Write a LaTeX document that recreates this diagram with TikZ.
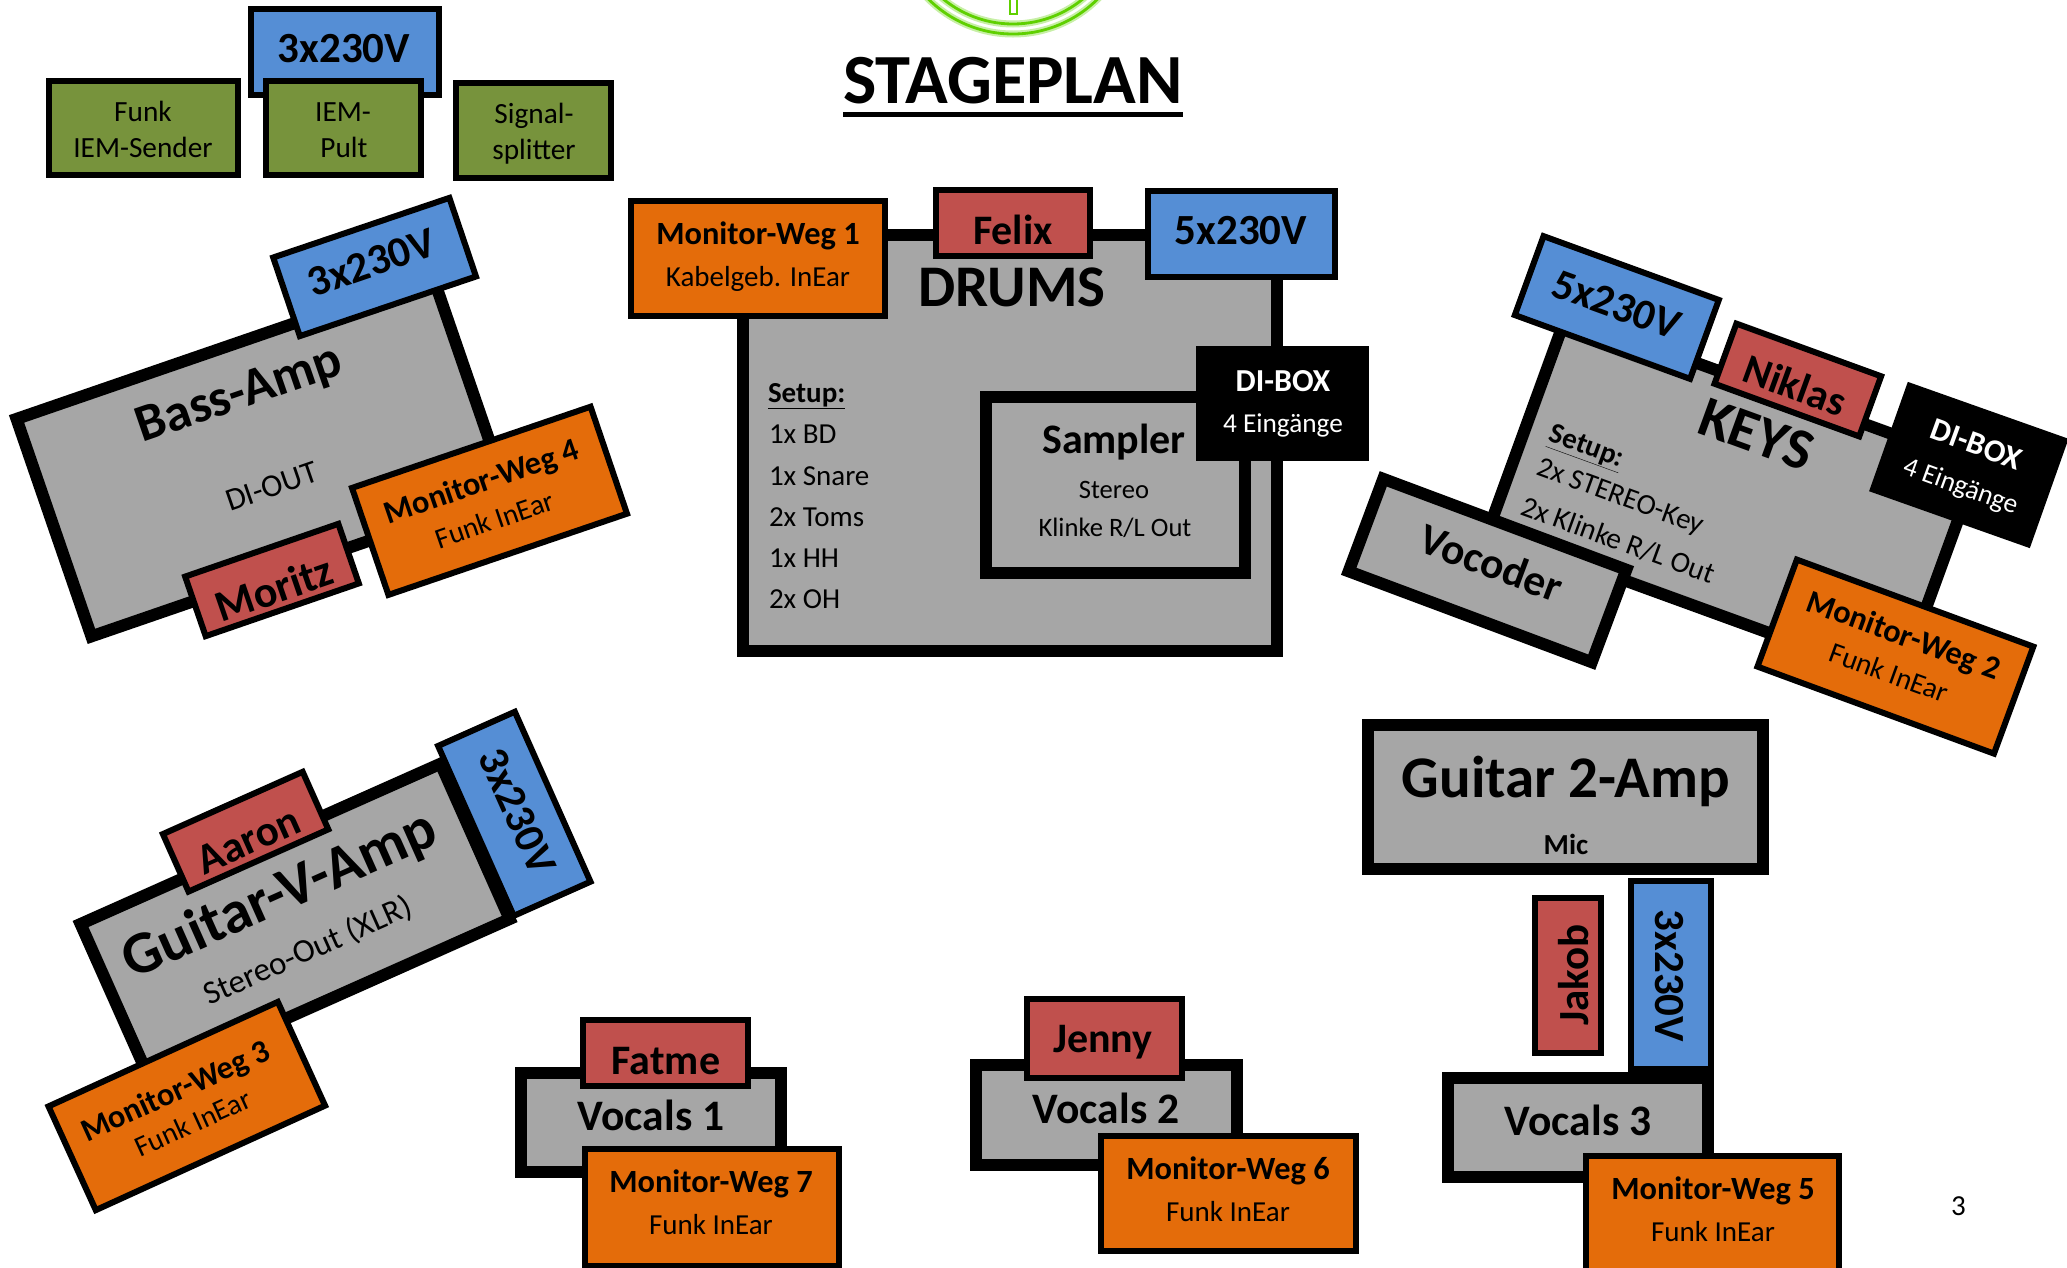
\documentclass[tikz,border=0pt]{standalone}
\usepackage{fontspec}
\setmainfont{Carlito}
\newcommand{\fs}[1]{\fontsize{#1}{#1}\selectfont}
\definecolor{cblue}{HTML}{558ED5}
\definecolor{corange}{HTML}{E46C0A}
\definecolor{cred}{HTML}{C0504D}
\definecolor{cgreen}{HTML}{77933C}
\definecolor{cgray}{HTML}{A6A6A6}
\definecolor{clogo}{HTML}{5FD000}
\tikzset{
  basebox/.style={draw=black,rectangle,inner sep=0pt,outer sep=0pt,line width=6pt},
  bluebox/.style={basebox,fill=cblue},
  orgbox/.style={basebox,fill=corange},
  redbox/.style={basebox,fill=cred},
  grnbox/.style={basebox,fill=cgreen},
  graybox/.style={basebox,fill=cgray,line width=12pt},
  blkbox/.style={rectangle,fill=black,inner sep=0pt,outer sep=0pt},
  txt/.style={inner sep=0pt,outer sep=0pt,anchor=base,text=black,font=\fs{#1}},
  btxt/.style={inner sep=0pt,outer sep=0pt,anchor=base,text=black,font=\fs{#1}\bfseries},
  ltxt/.style={inner sep=0pt,outer sep=0pt,anchor=base west,text=black,font=\fs{#1}},
  logoglow/.style={draw=clogo!35,line width=7pt},
  logoline/.style={draw=clogo,line width=2.8pt}
}
\begin{document}
\begin{tikzpicture}[x=1pt,y=-1pt]
\useasboundingbox (0,0) rectangle (2067,1267);
\clip (0,0) rectangle (2067,1267);
% logo
\coordinate (logoc) at (1013,-86);
\draw[logoglow] (logoc) circle (120);
\draw[logoglow] (logoc) circle (110);
\draw[logoline] (logoc) circle (120);
\draw[logoline] (logoc) circle (110);
\draw[draw=clogo,line width=1.6pt,fill=white] (1010,-5) rectangle (1017,14);
% title
\node[btxt=70.5] (title) at (1013,103) {STAGEPLAN};
\draw[line width=5.5pt] (843,114.5) -- (1183,114.5);
% top
\node[bluebox,minimum width=188pt,minimum height=86pt] (toppower) at (345,52) {};
\node[btxt=43] (toppowert) at (344,62) {3x230V};
\node[grnbox,minimum width=189pt,minimum height=94pt] (funk) at (143.5,128) {};
\node[txt=29.3] (funka) at (143,121) {Funk};
\node[txt=29.3] (funkb) at (143,157) {IEM-Sender};
\node[grnbox,minimum width=155pt,minimum height=94pt] (iem) at (343.5,128) {};
\node[txt=29.3] (iema) at (343,121) {IEM-};
\node[txt=29.3] (iemb) at (344,157) {Pult};
\node[grnbox,minimum width=155pt,minimum height=95pt] (sig) at (533.5,130.5) {};
\node[txt=29.3] (siga) at (534,123) {Signal-};
\node[txt=29.3] (sigb) at (534,159) {splitter};
% bass
\node[graybox,minimum width=440pt,minimum height=230pt,rotate=19] (bass) at (262,456) {};
\node[btxt=52.5,rotate=19] (basst) at (244,408) {Bass-Amp};
\node[txt=32,rotate=19] (bassd) at (275,496) {DI-OUT};
\node[bluebox,minimum width=186pt,minimum height=83pt,rotate=18.7] (bassp) at (374.6,267) {};
\node[btxt=43,rotate=19] (basspt) at (376,276) {3x230V};
\node[redbox,minimum width=162pt,minimum height=63pt,rotate=19] (mor) at (272,580) {};
\node[btxt=44,rotate=19] (mort) at (279,603) {Moritz};
\node[orgbox,minimum width=252pt,minimum height=113pt,rotate=18.8] (mon4) at (489.5,500.8) {};
\node[btxt=32.4,rotate=19] (mon4a) at (485,491.5) {Monitor-Weg 4};
\node[txt=29,rotate=19] (mon4b) at (498,529) {Funk InEar};
% drums
\node[graybox,minimum width=534pt,minimum height=416pt] (drums) at (1010,443) {};
\node[graybox,minimum width=259pt,minimum height=176pt] (samp) at (1115.5,485) {};
\node[btxt=59] (drumst) at (1012,306) {DRUMS};
\node[orgbox,minimum width=254pt,minimum height=115pt] (mon1) at (758,258.5) {};
\node[btxt=32.4] (mon1a) at (758,244) {Monitor-Weg 1};
\node[txt=29] (mon1b) at (758,286) {Kabelgeb. InEar};
\node[redbox,minimum width=154pt,minimum height=66pt] (felix) at (1013,223) {};
\node[btxt=42] (felixt) at (1013,244) {Felix};
\node[bluebox,minimum width=187pt,minimum height=86pt] (dp) at (1241.5,234) {};
\node[btxt=43] (dpt) at (1241,244) {5x230V};
\node[blkbox,minimum width=173pt,minimum height=115pt] (di) at (1282.5,403.5) {};
\node[btxt=32,text=white] (dia) at (1283,391) {DI-BOX};
\node[txt=27.3,text=white] (dib) at (1283,432) {4 Eingänge};
\node[btxt=42] (sampa) at (1114,453) {Sampler};
\node[txt=26.6] (sampb) at (1114,498) {Stereo};
\node[txt=26.6] (sampc) at (1115,536) {Klinke R/L Out};
\node[ltxt=29,font=\fs{29}\bfseries] (setup) at (768,402) {\underline{Setup:}};
\node[ltxt=29] (s1) at (769,443) {1x BD};
\node[ltxt=29] (s2) at (769,485) {1x Snare};
\node[ltxt=29] (s3) at (769,526) {2x Toms};
\node[ltxt=29] (s4) at (769,567) {1x HH};
\node[ltxt=29] (s5) at (769,608) {2x OH};
% keys
\node[graybox,minimum width=438pt,minimum height=229pt,rotate=-20] (keys) at (1733,498) {};
\node[btxt=58,rotate=-20] (keyst) at (1750,452) {KEYS};
\node[txt=29,font=\fs{29}\bfseries,rotate=-20] (ksetup) at (1584,454) {\underline{Setup:}};
\node[txt=29,rotate=-20] (ks1) at (1618,504.5) {2x STEREO-Key};
\node[txt=29.5,rotate=-20] (ks2) at (1615,549) {2x Klinke R/L Out};
\node[graybox,minimum width=259.5pt,minimum height=98.7pt,rotate=-20.5] (voc) at (1487.5,570.5) {};
\node[btxt=43.5,rotate=-20.5] (voct) at (1486,577) {Vocoder};
\node[bluebox,minimum width=186.5pt,minimum height=84pt,rotate=-20] (kp) at (1616.8,307.5) {};
\node[btxt=43,rotate=-20] (kpt) at (1612,318) {5x230V};
\node[redbox,minimum width=154pt,minimum height=64pt,rotate=-20] (nik) at (1797.8,380) {};
\node[btxt=42,rotate=-20] (nikt) at (1790,399) {Niklas};
\node[blkbox,minimum width=170.5pt,minimum height=116pt,rotate=-19.5] (kdi) at (1968.8,465) {};
\node[btxt=32,text=white,rotate=-20] (kdia) at (1973,454) {DI-BOX};
\node[txt=27.3,text=white,rotate=-20] (kdib) at (1958,494) {4 Eingänge};
\node[orgbox,minimum width=252pt,minimum height=114pt,rotate=-20.2] (mon2) at (1895.4,656.6) {};
\node[btxt=32.4,rotate=-20] (mon2a) at (1900,645) {Monitor-Weg 2};
\node[txt=29,rotate=-20] (mon2b) at (1886,682) {Funk InEar};
% guitar V
\node[graybox,minimum width=394pt,minimum height=170pt,rotate=24] (gv) at (295.1,921.5) {};
\node[btxt=60,rotate=24] (gvt) at (287,911) {Guitar-V-Amp};
\node[txt=33,rotate=24] (gvs) at (312,960) {Stereo-Out (XLR)};
\node[bluebox,minimum width=186pt,minimum height=84pt,rotate=-66] (gvp) at (514.3,813.8) {};
\node[btxt=43,rotate=-66] (gvpt) at (504.5,817) {3x230V};
\node[redbox,minimum width=153pt,minimum height=63pt,rotate=24] (aar) at (245.6,831.7) {};
\node[btxt=43,rotate=24] (aart) at (254,853) {Aaron};
\node[orgbox,minimum width=252pt,minimum height=114pt,rotate=24.5] (mon3) at (186.8,1106) {};
\node[btxt=32.4,rotate=24.5] (mon3a) at (179.6,1100.5) {Monitor-Weg 3};
\node[txt=29,rotate=24.5] (mon3b) at (197,1132) {Funk InEar};
% vocals 1
\node[graybox,minimum width=260pt,minimum height=99pt] (v1) at (651,1122.5) {};
\node[btxt=43.5] (v1t) at (651,1130) {Vocals 1};
\node[redbox,minimum width=165pt,minimum height=66pt] (fat) at (665.5,1053) {};
\node[btxt=42] (fatt) at (666,1074) {Fatme};
\node[orgbox,minimum width=254pt,minimum height=117pt] (mon7) at (712,1207.5) {};
\node[btxt=32.4] (mon7a) at (711,1192) {Monitor-Weg 7};
\node[txt=29] (mon7b) at (711,1234) {Funk InEar};
% vocals 2
\node[graybox,minimum width=261pt,minimum height=100pt] (v2) at (1106.5,1115) {};
\node[btxt=43.5] (v2t) at (1106,1123) {Vocals 2};
\node[redbox,minimum width=155pt,minimum height=79pt] (jen) at (1104.5,1038.5) {};
\node[btxt=42] (jent) at (1103,1052.5) {Jenny};
\node[orgbox,minimum width=255pt,minimum height=115pt] (mon6) at (1228.5,1193.5) {};
\node[btxt=32.4] (mon6a) at (1228,1179) {Monitor-Weg 6};
\node[txt=29] (mon6b) at (1228,1221) {Funk InEar};
% guitar 2
\node[graybox,minimum width=395pt,minimum height=144pt] (g2) at (1565.5,797) {};
\node[btxt=59] (g2t) at (1566,797) {Guitar 2-Amp};
\node[btxt=29] (g2m) at (1566,854) {Mic};
\node[redbox,minimum width=66pt,minimum height=155pt] (jak) at (1568,975.5) {};
\node[btxt=43,rotate=90] (jakt) at (1588,975) {Jakob};
\node[bluebox,minimum width=80pt,minimum height=188pt] (g2p) at (1671,975) {};
\node[btxt=43,rotate=-90] (g2pt) at (1655,976) {3x230V};
% vocals 3
\node[graybox,minimum width=260pt,minimum height=99pt] (v3) at (1578,1127.5) {};
\node[btxt=43.5] (v3t) at (1578,1135) {Vocals 3};
\node[orgbox,minimum width=253pt,minimum height=116pt] (mon5) at (1712.5,1214) {};
\node[btxt=32.4] (mon5a) at (1713,1199) {Monitor-Weg 5};
\node[txt=29] (mon5b) at (1713,1241) {Funk InEar};
% page number
\node[txt=29] (page) at (1958.5,1215.5) {3};
\end{tikzpicture}
\end{document}
